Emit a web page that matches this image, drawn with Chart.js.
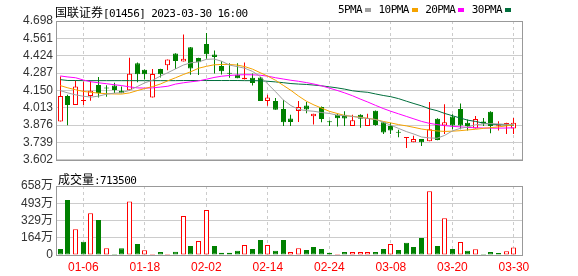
<!DOCTYPE html>
<html>
<head>
<meta charset="utf-8">
<script src="https://cdn.jsdelivr.net/npm/chart.js@4.4.0/dist/chart.umd.min.js"></script>
<style>
  body { margin: 0; background: #fff; width: 578px; height: 276px; overflow: hidden; position: relative; }
  canvas { position: absolute; left: 0; }
  #kline { top: 0; }
  #vol { top: 170px; }
  .txt { position: absolute; font: 11px "DejaVu Sans Mono", monospace; letter-spacing: -0.6px; color: #000; white-space: nowrap; line-height: 13px; }
  .cjk { font: 12px "Noto Sans CJK SC"; letter-spacing: 0; }
  #legend { left: 338px; top: 3px; display: flex; align-items: center; }
  #legend i { display: inline-block; width: 6px; height: 4px; margin: 0 7.5px 0 3px; }
</style>
</head>
<body>
<canvas id="kline" width="578" height="170"></canvas>
<canvas id="vol" width="578" height="106"></canvas>
<div class="txt" id="title" style="left:55px;top:3px"></div>
<div class="txt" id="legend"></div>
<div class="txt" id="volLabel" style="left:58px;top:170px"></div>
<script>
const stockName = '国联证券';
const stockCode = '01456';
const stamp = '2023-03-30 16:00';

const days = ['01-03','01-04','01-05','01-06','01-09','01-10','01-11','01-12','01-13','01-16',
  '01-17','01-18','01-19','01-20','01-26','01-27','01-30','01-31','02-01','02-02',
  '02-03','02-06','02-07','02-08','02-09','02-10','02-13','02-14','02-15','02-16',
  '02-17','02-20','02-21','02-22','02-23','02-24','02-27','02-28','03-01','03-02',
  '03-03','03-06','03-07','03-08','03-09','03-10','03-13','03-14','03-15','03-16',
  '03-17','03-20','03-21','03-22','03-23','03-24','03-27','03-28','03-29','03-30'];
const tickDays = ['01-06','01-18','02-02','02-14','02-24','03-08','03-20','03-30'];

const opens = [3.905,4.105,4.035,4.066,4.105,4.193,4.168,4.188,4.148,4.152,
  4.365,4.314,4.094,4.318,4.348,4.441,4.378,4.490,4.405,4.516,
  4.433,4.343,4.284,4.274,4.238,4.250,4.252,4.066,4.066,4.003,
  3.929,3.987,4.031,3.945,4.018,3.902,3.957,3.957,3.868,3.957,
  3.868,3.990,3.899,3.868,3.818,3.774,3.741,3.767,3.749,3.927,
  3.873,3.944,4.003,3.894,3.850,3.904,3.982,3.866,3.885,3.850];
const highs = [4.260,4.115,4.230,4.218,4.223,4.255,4.190,4.210,4.180,4.408,
  4.370,4.316,4.318,4.320,4.394,4.443,4.592,4.492,4.408,4.604,
  4.466,4.381,4.365,4.365,4.370,4.283,4.256,4.116,4.090,4.075,
  3.957,4.066,4.059,3.966,4.022,3.912,3.965,3.985,3.957,3.962,
  3.965,3.992,3.900,3.894,3.840,3.777,3.792,3.767,4.059,3.930,
  4.041,3.962,4.046,3.920,3.947,3.932,3.985,3.906,3.894,3.932];
const lows = [3.905,3.875,4.035,4.035,4.068,4.093,4.100,4.130,4.128,4.150,
  4.215,4.237,4.094,4.252,4.310,4.319,4.378,4.274,4.272,4.400,
  4.283,4.276,4.250,4.245,4.236,4.188,4.066,4.028,3.998,3.868,
  3.868,3.900,3.970,3.880,3.899,3.868,3.865,3.868,3.868,3.855,
  3.868,3.870,3.805,3.805,3.780,3.696,3.741,3.711,3.749,3.757,
  3.805,3.843,3.843,3.833,3.850,3.868,3.812,3.833,3.805,3.805];
const closes = [4.105,4.035,4.180,4.070,4.148,4.130,4.165,4.153,4.128,4.281,
  4.277,4.278,4.280,4.277,4.394,4.383,4.400,4.322,4.372,4.436,
  4.414,4.302,4.281,4.246,4.250,4.208,4.066,4.094,3.998,3.899,
  3.901,4.018,4.000,3.965,3.924,3.899,3.930,3.928,3.915,3.927,
  3.932,3.877,3.817,3.833,3.815,3.777,3.767,3.741,3.843,3.759,
  3.899,3.873,3.873,3.868,3.924,3.889,3.868,3.870,3.889,3.894];

const ma5 = [4.148,4.130,4.115,4.104,4.097,4.105,4.120,4.128,4.132,4.150,
  4.180,4.210,4.230,4.262,4.290,4.320,4.350,4.368,4.375,4.395,
  4.398,4.380,4.350,4.338,4.325,4.300,4.260,4.200,4.140,4.075,
  4.030,4.000,3.990,3.985,3.975,3.968,3.955,3.950,3.945,3.935,
  3.928,3.920,3.900,3.875,3.850,3.825,3.805,3.782,3.775,3.772,
  3.795,3.830,3.850,3.862,3.878,3.885,3.888,3.885,3.882,3.880];
const ma10 = [4.188,4.170,4.155,4.142,4.135,4.128,4.124,4.122,4.121,4.130,
  4.148,4.165,4.180,4.200,4.226,4.250,4.275,4.298,4.325,4.340,
  4.352,4.355,4.355,4.350,4.338,4.318,4.290,4.262,4.230,4.190,
  4.150,4.105,4.065,4.035,4.010,3.985,3.968,3.952,3.945,3.938,
  3.930,3.920,3.905,3.893,3.880,3.870,3.858,3.845,3.836,3.830,
  3.826,3.828,3.832,3.838,3.843,3.850,3.856,3.862,3.870,3.878];
const ma20 = [4.264,4.256,4.250,4.232,4.218,4.210,4.203,4.195,4.188,4.178,
  4.170,4.168,4.170,4.176,4.183,4.200,4.210,4.218,4.225,4.238,
  4.252,4.262,4.268,4.272,4.274,4.273,4.270,4.262,4.250,4.240,
  4.230,4.222,4.212,4.200,4.186,4.168,4.150,4.130,4.108,4.082,
  4.058,4.032,4.007,3.985,3.965,3.945,3.925,3.905,3.890,3.880,
  3.872,3.866,3.862,3.858,3.855,3.853,3.852,3.852,3.853,3.855];
const ma30 = [4.235,4.228,4.228,4.227,4.227,4.227,4.227,4.227,4.227,4.227,
  4.227,4.227,4.227,4.227,4.227,4.227,4.228,4.228,4.228,4.228,
  4.228,4.228,4.228,4.228,4.227,4.227,4.226,4.222,4.217,4.211,
  4.204,4.200,4.197,4.192,4.186,4.178,4.170,4.160,4.147,4.140,
  4.135,4.122,4.110,4.100,4.085,4.065,4.046,4.028,4.005,3.990,
  3.968,3.950,3.932,3.915,3.905,3.892,3.883,3.880,3.877,3.874];

const volumes = [570000,5250000,2450000,1270000,3970000,3340000,640000,95000,640000,5090000,
  1050000,445000,95000,286000,95000,318000,3720000,858000,1335000,4290000,
  858000,222000,222000,413000,954000,572000,1430000,954000,413000,1430000,
  286000,636000,477000,763000,572000,222000,95000,286000,286000,286000,
  286000,286000,572000,1050000,477000,1170000,763000,1620000,6070000,858000,
  3500000,572000,1240000,413000,540000,95000,286000,191000,349000,713500];
// 1 = 量柱红色（收盘高于前一日）
const volRise = [0,0,1,0,1,0,1,0,0,1, 0,1,1,0,1,0,1,0,1,1, 0,0,0,0,1,0,0,1,0,0,
  1,1,0,0,0,0,1,0,1,1, 1,0,0,1,0,0,0,0,1,0, 1,0,1,0,1,0,0,0,1,1];

const priceTicks = [3.602,3.739,3.876,4.013,4.150,4.287,4.424,4.561,4.698];
const volTicks = [0,1645000,3290000,4935000,6580000];
const volTickLabels = ['0','164万','329万','493万','658万'];

const maNames = ['5PMA','10PMA','20PMA','30PMA'];
const maColors = ['#a0a0a0','#f5a300','#ff00ff','#006e3c'];
const maData = [ma5, ma10, ma20, ma30];

const RED = '#ff0000', GREEN = '#008000';

// texts
document.getElementById('title').innerHTML =
  '<span class="cjk">' + stockName + '</span>[' + stockCode + '] ' + stamp;
document.getElementById('volLabel').innerHTML =
  '<span class="cjk">成交量</span>:' + volumes[volumes.length - 1];
document.getElementById('legend').innerHTML = maNames
  .map((n, k) => n + '<i style="background:' + maColors[k] + '"></i>').join('');

Chart.defaults.font.family = '"Liberation Sans", "Noto Sans CJK SC", sans-serif';
Chart.defaults.font.size = 12;

const frame = {
  id: 'frame',
  afterDraw(chart) {
    const { ctx, chartArea: a } = chart;
    ctx.save();
    ctx.strokeStyle = '#999';
    ctx.lineWidth = 1;
    ctx.strokeRect(Math.round(a.left) + 0.5, Math.round(a.top) + 0.5,
      Math.round(a.right - a.left), Math.round(a.bottom - a.top));
    ctx.restore();
  }
};

// snap bar centres to half pixels so 1px borders stay crisp
const crisp = {
  id: 'crisp',
  beforeDatasetsDraw(chart) {
    chart.data.datasets.forEach((ds, i) => {
      const meta = chart.getDatasetMeta(i);
      if (meta.type !== 'bar') return;
      meta.data.forEach(el => { el.x = Math.round(el.x - 0.5) + 0.5; });
    });
  }
};

function xScale(showLabels) {
  return {
    type: 'linear', min: -0.55, max: 60.05, offset: false,
    afterBuildTicks: s => { s.ticks = tickDays.map(d => ({ value: days.indexOf(d) })); },
    afterFit: s => { s.height = showLabels ? 21 : 0; },
    grid: { color: '#ccc', drawTicks: false, offset: false },
    border: { display: false, dash: [3, 3] },
    ticks: {
      display: showLabels, autoSkip: false, maxRotation: 0, padding: 5,
      color: RED, callback: (v, i) => tickDays[i]
    }
  };
}

const up = closes.map((c, i) => c >= opens[i]);

new Chart(document.getElementById('kline'), {
  type: 'bar',
  data: {
    datasets: [
      ...maData.map((arr, k) => ({
        type: 'line', label: maNames[k],
        data: arr.map((v, i) => ({ x: i, y: v })),
        borderColor: maColors[k], borderWidth: 1, pointRadius: 0, tension: 0, order: 0
      })),
      {
        label: 'body',
        data: days.map((d, i) => ({ x: i, y: [opens[i], closes[i]] })),
        backgroundColor: up.map(u => u ? '#fff' : GREEN),
        borderColor: up.map(u => u ? RED : GREEN),
        borderWidth: 1, borderSkipped: false, barThickness: 5, minBarLength: 1,
        grouped: false, inflateAmount: 0, order: 1
      },
      {
        label: 'wick',
        data: days.map((d, i) => ({ x: i, y: [lows[i], highs[i]] })),
        backgroundColor: up.map(u => u ? RED : GREEN),
        borderWidth: 0, barThickness: 1, grouped: false, inflateAmount: 0, order: 2
      }
    ]
  },
  options: {
    responsive: false, animation: false, devicePixelRatio: 1, events: [],
    layout: { padding: { left: 0, top: 21, right: 56, bottom: 5 } },
    plugins: { legend: { display: false }, tooltip: { enabled: false } },
    scales: {
      x: xScale(false),
      y: {
        min: 3.602, max: 4.698,
        afterBuildTicks: s => { s.ticks = priceTicks.map(v => ({ value: v })); },
        afterFit: s => { s.width = 56; },
        grid: { color: '#ccc', drawTicks: false },
        border: { display: false },
        ticks: { padding: 3, color: '#333', autoSkip: false, callback: v => v.toFixed(3) }
      }
    }
  },
  plugins: [crisp, frame]
});

new Chart(document.getElementById('vol'), {
  type: 'bar',
  data: {
    datasets: [{
      label: '成交量',
      data: volumes.map((v, i) => ({ x: i, y: v })),
      backgroundColor: volRise.map(r => r ? '#fff' : GREEN),
      borderColor: volRise.map(r => r ? RED : GREEN),
      borderWidth: 1, borderSkipped: false, barThickness: 5, minBarLength: 1,
      grouped: false, inflateAmount: 0
    }]
  },
  options: {
    responsive: false, animation: false, devicePixelRatio: 1, events: [],
    layout: { padding: { left: 0, top: 16, right: 56, bottom: 0 } },
    plugins: { legend: { display: false }, tooltip: { enabled: false } },
    scales: {
      x: xScale(true),
      y: {
        min: 0, max: 6580000,
        afterBuildTicks: s => { s.ticks = volTicks.map(v => ({ value: v })); },
        afterFit: s => { s.width = 56; },
        grid: { color: '#ccc', drawTicks: false },
        border: { display: false },
        ticks: { padding: 3, color: '#333', autoSkip: false, callback: (v, i) => volTickLabels[i] }
      }
    }
  },
  plugins: [crisp, frame]
});
</script>
</body>
</html>
